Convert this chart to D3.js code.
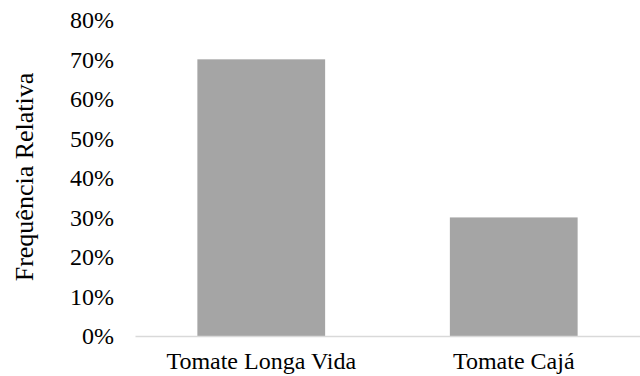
<!DOCTYPE html>
<html>
<head>
<meta charset="utf-8">
<script src="https://cdn.jsdelivr.net/npm/d3@7"></script>
<style>
html,body{margin:0;padding:0;background:#fff;}
svg text{font-family:"Liberation Serif","Times New Roman",serif !important;}
</style>
</head>
<body>
<svg id="chart" width="640" height="376"></svg>
<script>
const categories = ["Tomate Longa Vida", "Tomate Cajá"];
const values = [0.70, 0.30];
const yTicks = [0, 0.1, 0.2, 0.3, 0.4, 0.5, 0.6, 0.7, 0.8];
const yTitle = "Frequência Relativa";

const svg = d3.select("#chart");
const margin = {left: 135, right: 0, top: 20, bottom: 40};
const W = 640, H = 376;
const FONT = "Liberation Serif, Times New Roman, serif";

const x = d3.scaleBand().domain(categories).range([margin.left, W - margin.right]).paddingInner(0.494).paddingOuter(0.247);
const y = d3.scaleLinear().domain([0, 0.8]).range([336, 19.8]);

svg.append("g").selectAll("rect").data(values).join("rect")
  .attr("x", (d, i) => x(categories[i]))
  .attr("width", x.bandwidth())
  .attr("y", d => y(d))
  .attr("height", d => y(0) - y(d))
  .attr("fill", "#a5a5a5");

// x axis
const xAxis = svg.append("g").attr("transform", `translate(0,${y(0)})`)
  .call(d3.axisBottom(x).tickSize(0).tickPadding(0));
xAxis.attr("font-family", FONT).attr("font-size", 24);
xAxis.select(".domain").attr("stroke", "#d9d9d9").attr("stroke-width", 1.3);
xAxis.selectAll("text").attr("fill", "#000").attr("font-family", FONT).attr("font-size", 24)
  .attr("dy", null).attr("y", 33);

// y axis (labels only)
const yAxis = svg.append("g").attr("transform", `translate(114,0)`)
  .call(d3.axisLeft(y).tickValues(yTicks).tickFormat(d3.format(".0%")).tickSize(0).tickPadding(0));
yAxis.attr("font-family", FONT).attr("font-size", 24);
yAxis.select(".domain").remove();
yAxis.selectAll("text").attr("fill", "#000").attr("font-family", FONT).attr("font-size", 24).attr("dy", "0.32em");

svg.append("text")
  .attr("transform", `translate(33,177) rotate(-90)`)
  .attr("text-anchor", "middle")
  .attr("font-family", FONT)
  .attr("font-size", 26)
  .attr("fill", "#000")
  .text(yTitle);
</script>
</body>
</html>
